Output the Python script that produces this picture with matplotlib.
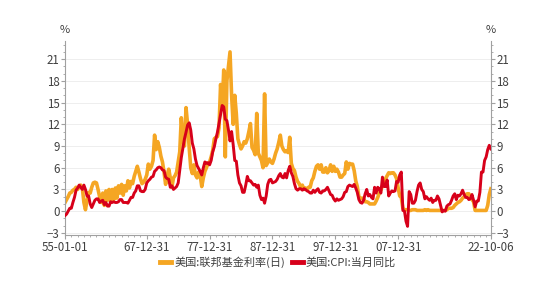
import numpy as np
import pandas as pd
import matplotlib
matplotlib.use("Agg")
import matplotlib.pyplot as plt
import matplotlib.dates as mdates
from matplotlib.ticker import MultipleLocator

plt.rcParams['font.family'] = ['Noto Sans CJK SC', 'DejaVu Sans']

# quarterly values, 1955Q1 .. 2022Q4
fed_funds = [
    1.2, 1.6, 2.0, 2.5,   2.6, 2.9, 3.0, 3.3,   3.0, 3.4, 3.6, 3.2,   1.2, 0.2, 1.5, 2.6,
    2.5, 3.3, 3.9, 4.0,   3.9, 3.0, 2.0, 1.2,   2.5, 0.8, 2.8, 1.5,   3.0, 1.4, 3.0, 1.6,
    3.2, 1.8, 3.5, 2.5,   3.7, 2.2, 3.5, 2.8,   4.2, 3.2, 4.1, 3.8,   4.8, 5.5, 6.2, 5.4,
    4.5, 3.8, 4.0, 4.4,   5.0, 6.5, 5.8, 6.2,   7.0, 10.5, 8.5, 9.6,  8.8, 7.6, 6.8, 5.4,
    3.7, 5.0, 5.8, 4.6,   3.3, 4.6, 4.9, 5.4,   6.8, 8.2, 12.9, 9.8,  9.0, 14.3, 12.0, 8.8,
    6.0, 5.2, 6.4, 5.0,   4.6, 5.4, 5.0, 3.4,   4.6, 5.5, 6.0, 6.6,   6.8, 7.5, 8.4, 10.0,
    10.2, 10.3, 11.5, 17.5,  14.5, 19.5, 7.5, 18.0,  20.0, 22.0, 16.0, 12.0,  16.0, 13.5, 10.0, 9.2,
    8.6, 9.0, 9.6, 9.4,   10.0, 11.0, 12.1, 8.8,  8.4, 7.8, 13.5, 8.0,  7.5, 7.0, 6.0, 16.2,
    6.3, 6.7, 7.2, 6.8,   6.6, 7.2, 8.0, 8.6,   9.5, 10.5, 9.0, 8.5,  8.2, 8.3, 8.1, 10.2,
    6.6, 5.9, 5.6, 4.7,   4.1, 3.8, 3.3, 3.6,   3.0, 3.2, 3.0, 3.3,   3.3, 4.2, 4.6, 5.5,
    6.2, 6.4, 5.8, 6.4,   5.4, 5.4, 6.0, 5.3,   5.6, 6.4, 5.5, 6.2,   5.5, 5.8, 5.4, 4.7,
    4.7, 5.0, 5.2, 6.8,   5.8, 6.6, 6.5, 6.5,   5.6, 4.2, 3.4, 2.0,   1.7, 1.8, 1.7, 1.3,
    1.3, 1.2, 1.0, 1.0,   1.0, 1.0, 1.4, 1.9,   2.5, 2.9, 3.5, 4.0,   4.5, 4.9, 5.3, 5.2,
    5.3, 5.3, 5.0, 4.5,   3.2, 2.1, 1.9, 0.4,   0.2, 0.2, 0.2, 0.1,   0.1, 0.2, 0.2, 0.2,
    0.1, 0.1, 0.1, 0.1,   0.1, 0.2, 0.1, 0.2,   0.1, 0.1, 0.1, 0.1,   0.1, 0.1, 0.1, 0.1,
    0.1, 0.1, 0.1, 0.2,   0.4, 0.4, 0.4, 0.5,   0.8, 1.0, 1.2, 1.3,   1.5, 1.8, 2.0, 2.3,
    2.4, 2.4, 2.0, 1.6,   1.3, 0.1, 0.1, 0.1,   0.1, 0.1, 0.1, 0.1,   0.1, 0.8, 2.3, 3.1,
]

cpi_yoy = [
    -0.6, -0.4, 0.0, 0.4,  0.4, 1.2, 1.9, 2.9,   3.2, 3.6, 3.3, 3.0,   3.6, 3.0, 2.1, 2.1,
    1.0, 0.5, 1.0, 1.5,   1.7, 1.7, 1.2, 1.4,   1.5, 0.9, 1.2, 0.7,   0.7, 1.3, 1.2, 1.3,
    1.2, 1.2, 1.3, 1.6,   1.6, 1.2, 1.2, 1.2,   1.1, 1.5, 1.9, 1.9,   2.5, 2.8, 3.5, 3.5,
    2.8, 2.7, 2.7, 3.0,   3.9, 4.2, 4.4, 4.7,   4.8, 5.5, 5.7, 6.0,   6.1, 6.0, 5.7, 5.6,
    4.7, 4.5, 4.4, 3.3,   3.5, 3.0, 3.2, 3.4,   3.9, 5.7, 7.4, 8.7,   10.0, 10.9, 11.9, 12.2,
    11.2, 9.4, 8.6, 7.2,  6.3, 5.9, 5.5, 5.0,   6.0, 6.8, 6.6, 6.7,   6.4, 7.0, 8.2, 8.9,
    10.0, 10.9, 12.1, 13.3,  14.6, 14.4, 12.7, 12.5,  11.2, 9.7, 11.0, 9.2,  7.0, 6.9, 5.0, 3.9,
    3.5, 2.6, 2.6, 3.6,   4.8, 4.2, 4.2, 3.9,   3.6, 3.7, 3.3, 3.6,   2.2, 1.6, 1.8, 1.1,
    2.1, 3.7, 4.3, 4.4,   3.9, 4.0, 4.1, 4.4,   4.9, 5.2, 4.7, 4.6,   5.2, 4.6, 5.6, 6.2,
    5.3, 4.8, 3.8, 3.1,   2.9, 3.1, 3.1, 2.9,   3.1, 3.0, 2.8, 2.7,   2.5, 2.5, 2.9, 2.6,
    2.9, 3.1, 2.6, 2.5,   2.8, 2.8, 3.0, 3.3,   2.8, 2.3, 2.2, 1.7,   1.4, 1.7, 1.5, 1.6,
    1.7, 2.0, 2.6, 2.7,   3.4, 3.6, 3.5, 3.4,   3.7, 3.2, 2.6, 1.6,   1.2, 1.1, 1.5, 2.4,
    3.0, 2.1, 2.3, 1.9,   1.7, 3.3, 2.5, 3.3,   3.1, 2.5, 4.7, 3.4,   3.4, 4.3, 2.1, 2.5,
    2.8, 2.7, 2.8, 4.1,   4.0, 5.0, 5.4, 0.1,   0.0, -1.4, -2.1, 2.7,  2.3, 1.1, 1.1, 1.5,
    2.7, 3.6, 3.9, 3.0,   2.7, 1.7, 2.0, 1.7,   1.5, 1.8, 1.2, 1.5,   1.5, 2.1, 1.7, 0.8,
    -0.1, 0.1, 0.0, 0.7,  0.9, 1.0, 1.5, 2.1,   2.4, 1.6, 2.2, 2.1,   2.4, 2.9, 2.3, 1.9,
    1.9, 1.6, 1.7, 2.3,   1.5, 0.6, 1.4, 1.4,   2.6, 5.4, 5.4, 7.0,   7.5, 8.5, 9.1, 8.6,
]

tick_dates = ["1955-01-01", "1967-12-31", "1977-12-31", "1987-12-31",
              "1997-12-31", "2007-12-31", "2022-10-06"]
y_ticks = [-3, 0, 3, 6, 9, 12, 15, 18, 21]

orange = "#F5A623"
red = "#D7001A"
text_c = "#404040"
spine_c = "#A0A0A0"

dates = pd.date_range("1955-01-01", periods=len(fed_funds), freq="QS")

fig = plt.figure(figsize=(5.56, 2.87), dpi=100)
ax = fig.add_axes([0.117, 0.181, 0.766, 0.676])

ax.plot(dates, fed_funds, color=orange, lw=2.6, label="美国:联邦基金利率(日)", zorder=2)
ax.plot(dates[:len(cpi_yoy)], cpi_yoy, color=red, lw=2.1, label="美国:CPI:当月同比", zorder=3)

ax.set_xlim(pd.Timestamp("1955-01-01"), pd.Timestamp("2022-10-06"))
ax.set_ylim(-3.3, 23.5)

ticks = [pd.Timestamp(d) for d in tick_dates]
ax.set_xticks(ticks)
ax.set_xticklabels([t.strftime("%y-%m-%d") for t in ticks])
ax.xaxis.set_minor_locator(mdates.YearLocator(1))

ax.set_yticks(y_ticks)
ax.yaxis.set_minor_locator(MultipleLocator(1))
ax.grid(axis="y", color="#EBEBEB", lw=0.6)
ax.set_axisbelow(True)

ax2 = ax.twinx()
ax2.set_ylim(ax.get_ylim())
ax2.set_yticks(y_ticks)
ax2.yaxis.set_minor_locator(MultipleLocator(1))

for a in (ax, ax2):
    a.spines["top"].set_visible(False)
    for s in ("left", "right", "bottom"):
        a.spines[s].set_color(spine_c)
        a.spines[s].set_linewidth(0.8)
    a.tick_params(which="major", length=3, color=spine_c, labelsize=8.3, labelcolor=text_c, pad=1)
    a.tick_params(which="minor", length=1.5, color=spine_c)
ax.spines["right"].set_visible(False)
ax2.spines["left"].set_visible(False)
ax2.spines["bottom"].set_visible(False)

fig.text(0.117, 0.895, "%", ha="center", va="center", fontsize=8, color=text_c)
fig.text(0.883, 0.895, "%", ha="center", va="center", fontsize=8, color=text_c)

fig.legend(loc="center", bbox_to_anchor=(0.5, 0.085), ncol=2, frameon=False,
           fontsize=8, handlelength=1.0, handletextpad=0.3, columnspacing=0.6,
           labelcolor=text_c)
for h in fig.legends[0].get_lines():
    h.set_linewidth(3.5)

fig.savefig("out.png", dpi=100)
